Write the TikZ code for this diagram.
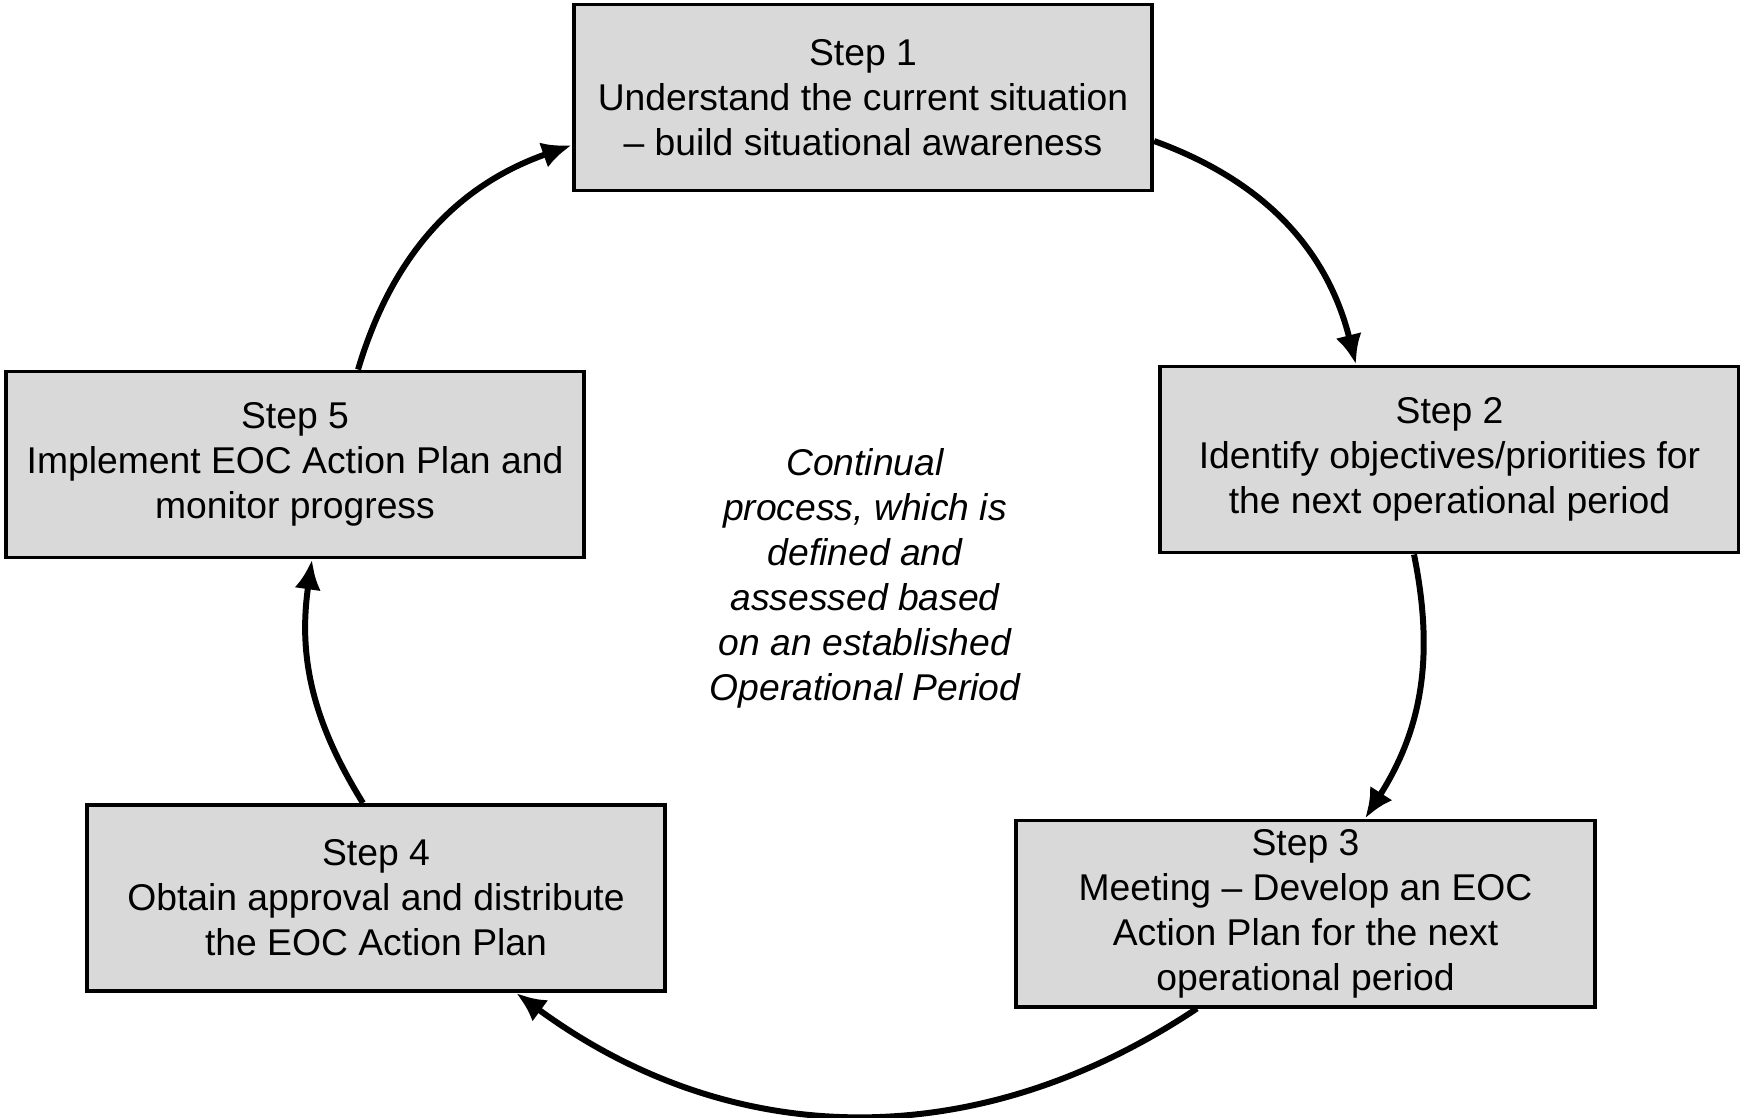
\documentclass[tikz,border=0pt]{standalone}
\usepackage{fontspec}
\setmainfont{Liberation Sans}
\usetikzlibrary{arrows.meta}
\definecolor{stepgray}{RGB}{217,217,217}

\begin{document}
\begin{tikzpicture}[
			x=0.01cm, y=0.01cm,
			stepbox/.style = {draw, line width=1.1pt, fill=stepgray, minimum width=5.78cm, minimum height=1.86cm, inner sep=0pt, align=center, font=\fontsize{10.6}{12.8}\selectfont},
			cycle/.style = {draw, line width=1.7pt, -{Latex[length=8.5pt,width=7.5pt]}},
			]
			\useasboundingbox (0,0) rectangle (1740,1117);
			\node[stepbox] (step1) at (863,1019.5) {Step 1\\Understand the current situation\\-- build situational awareness};
			\node[stepbox] (step2) at (1449.5,657.5) {Step 2\\Identify objectives/priorities for\\the next operational period};
			\node[stepbox] (step3) at (1305.5,203.5) {Step 3\\Meeting -- Develop an EOC\\Action Plan for the next\\operational period};
			\node[stepbox] (step4) at (376,219) {Step 4\\Obtain approval and distribute\\the EOC Action Plan};
			\node[stepbox] (step5) at (295,652.5) {Step 5\\Implement EOC Action Plan and\\monitor progress};
			\node[align=center, font=\fontsize{10.6}{12.8}\selectfont\itshape] (note) at (865,539) {Continual\\process, which is\\defined and\\assessed based\\on an established\\Operational Period};
			\draw[cycle] ([yshift=-0.435cm]step1.east) to[bend left=28] ([xshift=-0.935cm]step2.north);
			\draw[cycle] ([xshift=-0.355cm]step2.south) to[bend left=22] ([xshift=0.595cm]step3.north);
			\draw[cycle] ([xshift=-1.085cm]step3.south) to[bend left=35] ([xshift=1.40cm]step4.south);
			\draw[cycle] ([xshift=-0.13cm]step4.north) to[bend left=20] ([xshift=0.17cm]step5.south);
			\draw[cycle] ([xshift=0.63cm]step5.north) to[bend left=27] ([yshift=-0.475cm]step1.west);
		\end{tikzpicture}
\end{document}
